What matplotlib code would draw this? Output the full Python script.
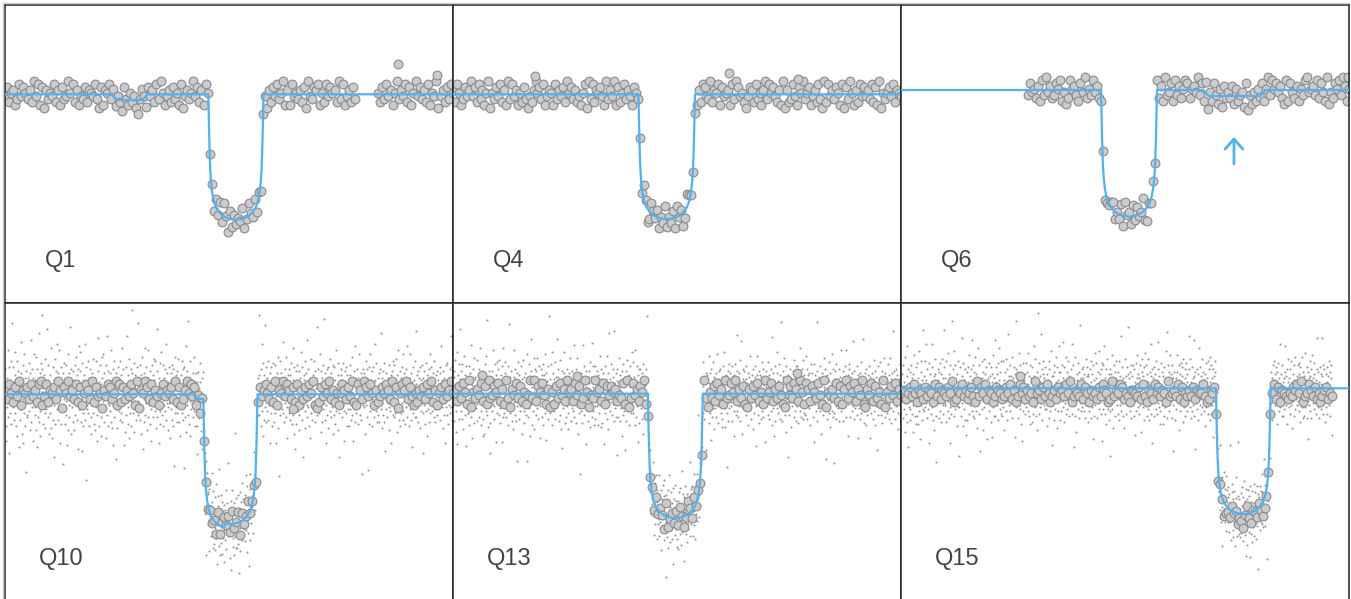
"""
plot.py - transit light curves of one planet in six Kepler quarters.

Long cadence points are grey circles, short cadence points tiny dots,
the fitted transit model is the blue line.
"""

import numpy as np
import matplotlib
matplotlib.use("Agg")
import matplotlib.pyplot as plt
from matplotlib.lines import Line2D

OUT = "out.png"
W, H = 1351, 599

BLUE = "#4db3f5"

# time (h) from the start of each window, flux (ppt) from the model baseline
T_SPAN = 44.8
Y_RANGE = 29.8

QUARTERS = ["Q1", "Q4", "Q6", "Q10", "Q13", "Q15"]
Y_TOP = [8.93, 8.93, 8.5, 9.13, 9.07, 8.53]
T_MID = [23.09, 21.37, 22.8, 22.54, 22.23, 34.23]
HALF_DUR = [2.76, 2.83, 2.8, 2.71, 2.75, 2.74]
DEPTH = [12.57, 12.5, 12.67, 13.0, 12.46, 12.6]

# half of the transit profile: phase (-1 = first contact, 0 = mid), fraction of depth
SHAPE_U = [-1.0, -0.985, -0.96, -0.93, -0.9, -0.86, -0.8, -0.72, -0.6, -0.45, -0.25, 0.0]
SHAPE_D = [0.0, 0.15, 0.4, 0.6, 0.7, 0.78, 0.85, 0.9, 0.94, 0.97, 0.99, 1.0]

# shallow second planet seen in some quarters
SEC_T = {
    "Q1": [10.67, 11.17, 13.67, 14.33],
    "Q6": [30.23, 30.73, 35.9, 36.4],
    "Q10": [19.0, 19.2, 21.9, 22.0],
}
SEC_F = {
    "Q1": [0.0, -0.57, -0.57, 0.0],
    "Q6": [0.0, -0.6, -0.6, 0.0],
    "Q10": [0.0, -0.47, -0.47, 0.0],
}

# long cadence: (start, end, residual digits), residual = (d - 4.5) * 0.3 ppt
LC = {
    "Q1": [
        (0.0, 35.0,
         "4725613847536294817063548261734958261437265483071658"
         "3726419537462058517462839514627351804635947261854617"
         "3829507263548149538261740627483591618453627094376815"
         "2847562938146273"),
        (37.3, 44.8, "5273846159364827159473628154904627385"),
    ],
    "Q4": [
        (0.0, 44.8,
         "6285137469472836159053748261938461527304269573814651"
         "8364729573624158093826574193649172583641753829602864"
         "7153925371846029745316287439265817456183974520476283"
         "5169385742619062384175935714628309284637518073951628"
         "474638271905357482654"),
    ],
    "Q6": [
        (12.7, 44.8,
         "3745261839462375814028563174925384621703467253819562"
         "8374591053748261934718362587256493718063952718464827"
         "3561905263748159385746208174261538945638274190427583"
         "9615"),
    ],
    "Q10": [
        (0.0, 44.8,
         "6385274916573846289148265739607594638271586392745064"
         "8735918273648519065973826415846573927136958472605784"
         "6351926847293580735946812746853729165948637281637485"
         "9102748593625158637492186397485162475863927058693741"
         "52647385926157384695"),
    ],
    "Q13": [
        (0.0, 44.8,
         "4627385190536482719347582619306483725149392758416051"
         "7384629562847139504395628174756243819038462759165728"
         "3640914637285149628475193053728461934859263710637482"
         "5193582637410947386295186275384190546382716937582649"
         "10648273519053748264"),
    ],
    "Q15": [
        (0.1, 43.1,
         "2413526304315243062514325370143624135207253614302543"
         "1253614026351423073415263024153426370243261530423152"
         "6430172436513204432516204316352430723426150324251433"
         "6201435216402326451320473154263012423615043213254637"
         "0236425130245132"),
    ],
}

# single long cadence points far from the rest: (time, flux)
LC_OUTLIERS = {
    "Q1": [(39.3, 3.03), (43.2, 1.93)],
    "Q4": [(8.2, 1.83), (27.6, 2.16), (34.5, 1.53)],
    "Q6": [(44.7, 1.3)],
    "Q10": [(28.8, -1.5)],
    "Q13": [(34.4, 2.1), (2.9, 1.87), (12.4, 1.77)],
    "Q15": [(11.9, 1.23)],
}

# short cadence: time span and residual codes, residual = (v - 50) * 0.21 ppt
SC_SPAN = {"Q10": (0.0, 44.8), "Q13": (0.0, 44.8), "Q15": (0.1, 43.1)}

SC_Q10 = """
47 62 35 51 28 58 44 71 39 55 63 49 22 57 41 66 53 36 84 45
51 44 63 38 56 47 70 41 59 35 53 48 66 30 57 45 61 25 52 43
52 38 60 43 75 31 56 48 64 27 50 41 69 35 58 46 13 61 54 40
39 58 46 65 42 54 33 60 49 76 37 56 44 62 51 28 58 47 69 40
44 57 33 68 49 25 62 39 53 46 79 37 55 42 60 30 48 65 51 88
62 45 53 36 59 48 41 67 34 55 50 43 81 46 57 39 64 52 31 56
59 41 50 34 72 46 54 29 63 38 57 45 20 67 49 36 61 52 43 74
47 60 38 54 45 71 43 58 27 63 49 36 56 44 60 53 17 48 65 42
36 55 47 64 40 58 26 51 69 33 45 60 39 82 48 56 31 62 44 53
55 37 61 49 33 57 46 64 40 52 68 45 38 59 47 24 62 50 43 73
61 43 70 37 52 48 65 23 57 41 35 59 46 74 50 38 63 9 54 45
43 66 50 41 58 35 54 47 62 39 56 31 60 45 52 67 41 57 48 36
49 33 58 44 66 28 53 40 61 47 77 35 56 42 50 64 30 55 39 68
58 42 47 69 37 53 60 44 51 29 64 48 55 40 78 46 35 61 53 45
42 60 51 37 47 71 34 57 45 62 26 53 39 66 48 58 43 19 60 52
34 55 63 46 50 42 57 38 66 48 41 59 45 72 37 54 49 62 26 51
55 46 32 63 40 54 49 78 36 59 44 51 67 29 57 41 62 47 35 90
60 48 41 56 44 65 32 53 47 59 38 50 63 43 56 84 47 40 58 46
38 64 50 45 59 31 68 43 56 24 52 60 37 48 72 40 55 46 63 33
46 52 58 39 71 45 54 36 61 50 43 57 28 64 48 53 39 59 45 67
57 42 66 34 51 47 61 39 81 53 44 27 58 49 36 65 42 54 70 45
53 40 64 48 35 58 45 62 42 55 74 38 51 46 60 33 56 44 63 49
46 53 29 60 43 57 38 64 50 35 62 47 16 56 41 68 52 44 59 37
41 61 45 52 67 37 50 57 44 30 59 47 54 41 66 50 38 62 46 15
63 39 55 48 73 32 50 45 61 40 54 85 36 58 47 30 66 51 43 56
57 46 39 60 48 53 42 68 35 56 45 61 49 37 58 24 63 51 42 55
41 58 44 67 35 52 60 26 49 63 38 55 46 71 42 57 33 61 48 21
44 63 55 41 56 30 60 46 52 65 40 54 47 71 43 58 36 50 64 39
54 47 62 37 50 43 69 56 31 59 45 64 40 53 77 36 48 58 42 65
62 37 50 58 45 61 49 33 57 42 53 66 38 55 46 60 44 79 48 52
50 34 57 45 61 28 53 47 66 39 56 43 60 35 51 93 44 62 38 55
38 54 47 63 40 57 26 51 64 47 36 59 45 52 41 68 55 43 60 46
45 61 39 52 70 44 58 33 49 64 41 57 25 54 47 68 36 60 43 51
55 49 60 35 52 44 70 46 39 62 50 43 57 32 61 47 54 40 58 88
59 40 53 46 35 62 48 74 42 56 30 65 50 38 59 44 83 52 37 63
47 58 42 66 38 56 51 45 60 27 54 48 63 41 57 35 50 65 44 53
37 55 64 41 57 49 27 60 45 52 68 34 58 43 11 56 40 66 48 53
60 43 53 48 75 41 58 37 55 46 62 39 51 68 44 56 29 59 47 41
62 46 51 38 59 43 65 36 54 48 72 40 57 31 63 47 55 24 61 44
36 57 64 42 49 55 40 61 33 58 45 52 47 70 38 54 63 45 20 59
48 57 34 66 42 53 60 45 39 76 51 44 62 35 56 49 29 58 41 67
52 45 38 59 56 47 66 43 50 61 37 57 44 53 46 82 40 55 62 48
53 41 69 47 55 32 61 44 58 37 50 64 43 86 46 54 38 60 52 27
45 62 51 40 63 34 55 49 58 42 67 46 39 60 52 44 57 31 64 50
40 63 50 57 36 48 71 42 55 46 33 59 65 41 52 20 57 45 62 49
59 39 47 57 45 65 42 53 28 61 48 56 41 63 35 50 59 46 54 43
56 35 59 43 64 51 38 53 47 68 40 56 28 61 44 50 73 37 58 46
41 56 62 46 36 52 58 44 69 47 40 55 60 38 57 49 12 62 45 53
44 60 47 54 31 66 45 57 39 62 53 14 55 48 63 36 51 42 69 57
54 48 35 61 50 43 63 56 39 57 46 74 42 51 65 37 53 47 58 40
60 48 37 62 55 43 79 50 34 58 46 61 40 54 37 65 49 23 56 43
48 60 53 39 58 46 51 33 64 44 55 42 59 49 27 61 45 56 40 66
51 39 64 46 57 41 53 67 32 59 48 55 44 71 38 52 61 45 35 58
57 41 46 63 42 69 38 55 47 60 52 36 56 44 62 48 73 39 53 45
35 58 52 43 69 47 60 38 56 44 25 63 50 41 57 46 66 39 54 80
39 55 59 44 52 37 61 48 45 58 34 63 50 42 57 46 55 64 41 22
58 45 61 36 50 54 42 65 47 30 59 43 56 49 62 37 53 69 41 48
63 47 42 56 48 60 45 39 66 51 43 54 37 59 46 52 40 61 49 57
43 52 47 60 38 63 49 55 73 44 57 34 61 46 52 40 58 27 50 64
44 52 57 40 65 49 36 58 53 45 62 41 56 78 44 50 63 38 55 47
"""

SC_Q13 = """
53 44 61 37 58 49 66 32 55 42 70 47 26 59 51 38 64 45 57 81
49 61 42 55 38 64 46 57 33 52 68 44 59 40 51 25 63 47 56 41
41 56 48 63 35 52 60 44 73 39 54 47 29 62 50 43 67 36 58 46
57 43 50 66 45 37 59 48 54 62 39 56 46 72 42 53 35 60 49 30
60 38 55 45 31 64 49 57 42 68 53 40 85 47 56 34 61 50 44 22
36 58 47 53 61 42 71 45 50 38 57 44 64 48 27 59 52 41 65 46
47 62 40 54 66 43 51 36 59 48 27 63 45 57 39 72 52 41 65 49
60 45 55 39 48 57 43 63 35 55 47 83 41 58 50 44 61 37 54 51
55 33 58 46 71 40 62 50 37 56 44 60 18 53 47 65 38 59 42 54
44 52 63 46 57 31 53 49 66 42 58 36 51 60 45 56 40 69 47 18
39 57 50 43 64 30 56 48 61 45 76 35 53 42 58 49 67 33 51 62
55 40 48 61 43 56 67 38 52 46 63 50 29 57 44 62 48 53 39 59
64 46 35 59 52 41 69 44 54 28 60 47 56 38 63 50 43 87 48 57
41 64 53 44 70 47 35 60 49 57 42 54 47 38 65 51 43 58 76 45
45 58 62 37 49 55 40 66 33 57 46 52 61 24 55 43 60 48 70 36
58 46 39 57 51 62 44 53 41 33 60 48 56 45 67 37 55 50 61 43
50 42 57 48 73 39 54 45 62 36 51 59 44 67 31 56 41 53 47 12
47 55 60 42 36 54 58 46 73 49 40 63 52 44 57 26 53 61 45 50
58 37 47 61 43 55 34 65 50 46 58 39 74 48 53 42 63 35 57 44
63 38 50 56 47 44 61 35 55 59 46 51 41 68 48 57 34 62 47 55
36 60 51 44 56 26 63 49 41 57 45 68 38 52 60 47 33 55 79 50
42 57 46 64 53 40 49 58 45 62 37 55 80 43 52 47 60 39 56 21
62 48 39 55 67 45 52 37 59 43 54 30 61 46 50 40 64 57 42 23
54 49 61 37 58 45 66 42 50 56 44 35 59 48 63 53 41 57 46 70
44 53 65 41 50 58 35 47 71 39 56 48 63 44 27 59 51 36 62 54
45 62 43 52 48 60 38 55 31 64 51 47 57 40 54 46 62 44 87 49
57 40 49 63 32 54 46 60 43 52 83 38 57 45 66 41 49 61 34 48
60 41 56 47 65 35 53 59 43 50 46 67 38 56 45 52 32 61 48 57
49 64 43 52 59 38 67 45 55 21 60 47 40 58 51 35 63 44 56 70
38 55 50 62 44 57 48 40 64 53 28 59 47 55 42 66 50 45 58 36
40 55 58 35 47 62 50 42 64 48 37 56 72 43 53 46 61 29 52 59
53 47 64 41 56 50 37 60 46 55 43 58 52 74 39 49 61 44 53 62
61 45 37 57 42 66 48 53 34 59 45 51 63 40 57 89 44 54 38 47
46 59 36 54 49 63 45 52 58 41 65 47 38 57 50 43 56 23 60 48
46 59 52 44 68 36 55 41 60 49 28 62 47 56 39 65 50 43 58 33
57 43 51 60 39 55 47 69 44 53 36 61 49 57 45 62 41 54 47 34
55 38 63 48 51 45 70 34 57 43 59 50 41 15 54 61 46 37 64 52
43 60 55 46 52 44 58 37 63 48 56 42 59 30 55 47 64 51 40 78
42 61 47 56 39 60 44 52 66 37 55 48 75 45 31 57 43 62 49 56
61 48 44 57 63 40 52 46 55 35 60 53 45 58 49 68 43 56 38 50
59 46 54 33 62 50 41 58 47 63 25 53 44 59 68 40 52 45 36 61
48 54 59 38 47 58 42 65 51 45 62 39 54 47 27 57 44 61 53 45
48 57 40 65 45 53 59 38 51 46 62 42 56 35 48 77 43 60 54 30
55 37 49 63 45 53 60 43 70 46 41 56 50 64 38 52 59 45 48 84
37 52 61 46 58 43 49 67 40 55 48 32 63 51 44 57 20 59 46 53
40 58 62 47 55 34 57 49 44 61 52 46 39 66 54 42 57 49 63 37
63 44 50 57 36 61 47 54 42 72 49 58 39 62 45 52 66 38 55 41
59 45 53 40 68 50 46 62 38 56 44 59 51 43 60 47 35 55 48 64
51 60 45 39 56 48 64 27 53 45 59 42 50 61 37 84 47 56 43 58
47 63 42 55 49 57 31 51 60 45 58 40 67 47 53 62 44 19 56 51
45 38 59 52 47 65 41 56 49 34 60 53 46 69 42 55 39 62 48 17
52 41 57 61 44 38 64 47 55 49 43 57 46 62 37 58 50 45 71 42
56 49 43 61 54 37 58 46 63 50 44 71 39 57 48 53 30 59 45 62
64 50 46 39 58 53 45 60 42 56 75 44 50 38 61 48 55 43 57 46
40 63 55 47 29 59 52 43 60 38 56 47 65 41 53 49 76 44 58 36
42 56 60 48 35 62 49 54 47 40 59 52 45 63 44 29 58 50 41 55
54 45 60 38 57 50 66 42 48 61 35 55 44 58 23 52 46 63 40 57
57 44 51 65 46 53 40 58 36 61 48 43 56 52 67 45 39 60 47 53
47 56 41 64 49 53 38 59 45 67 51 43 57 36 60 48 54 80 42 50
46 61 38 53 57 44 62 48 51 59 41 55 33 57 46 64 52 40 58 81
"""

SC_Q15 = """
44 57 36 49 61 40 53 29 47 65 38 51 43 70 34 56 46 22 59 41
47 40 58 35 52 44 61 38 55 46 29 57 42 66 49 37 53 45 60 33
50 37 62 45 33 55 48 68 39 52 44 26 58 42 63 35 47 54 78 40
39 56 45 63 41 50 71 43 54 36 59 47 40 52 62 45 24 57 48 51
38 53 46 60 41 71 35 49 56 43 30 57 45 64 50 37 15 52 44 59
54 43 36 58 47 62 39 51 45 57 34 64 50 42 55 38 60 46 78 43
55 42 48 34 63 46 52 39 67 44 57 36 50 41 24 61 47 53 38 82
42 59 51 44 68 37 55 48 40 61 46 53 32 57 44 49 63 41 52 18
41 60 45 53 37 49 74 43 56 32 48 62 40 54 46 35 59 44 51 28
58 35 47 60 43 53 46 66 38 56 42 50 59 45 73 39 54 47 37 61
58 36 52 46 65 39 44 57 31 50 42 69 47 55 38 61 43 49 20 53
45 52 63 40 55 30 58 44 49 64 41 57 46 36 53 60 43 51 26 55
46 51 39 62 43 56 48 34 60 45 53 27 57 41 66 47 37 55 50 73
37 60 44 53 48 57 42 35 62 47 54 69 40 58 45 51 38 63 49 44
37 63 47 41 54 30 58 45 50 64 39 52 44 59 35 48 76 42 56 46
61 46 39 56 51 43 65 49 36 55 44 60 48 53 27 57 46 41 59 82
52 44 58 36 49 67 42 55 40 47 61 33 53 45 25 57 48 39 62 43
43 54 57 38 45 62 50 41 58 46 39 52 67 44 56 37 61 48 33 53
43 55 34 60 46 51 38 70 44 56 41 49 64 37 52 45 58 30 47 86
50 38 62 47 56 41 53 76 43 59 48 35 57 45 63 42 50 55 40 46
60 40 50 45 57 32 54 47 42 63 36 59 48 53 39 68 44 51 23 56
56 44 49 61 35 58 46 52 40 65 53 44 31 60 47 54 39 58 45 70
35 58 46 53 39 61 44 50 72 41 55 47 34 60 43 52 38 65 49 45
40 58 53 44 63 47 37 56 50 42 59 45 54 71 38 52 61 43 49 22
49 42 65 37 52 48 29 57 45 54 40 62 51 36 58 46 80 43 55 39
53 47 41 59 46 55 60 39 57 44 51 36 64 48 42 56 47 60 34 57
56 47 39 59 44 50 63 36 53 41 48 57 26 61 45 37 54 49 42 67
44 62 55 36 50 45 58 43 68 49 40 57 46 53 59 38 45 25 62 50
40 61 53 43 70 38 49 55 46 33 59 44 52 64 40 47 57 35 51 18
59 39 46 57 43 66 40 54 47 31 61 52 44 58 37 55 63 46 51 42
54 38 47 58 35 63 45 51 42 56 39 75 48 43 60 52 37 55 46 31
47 53 64 45 38 56 48 60 42 57 46 79 43 50 55 39 58 44 36 61
45 56 42 50 61 46 37 59 48 28 53 44 62 39 55 47 66 41 50 57
38 55 50 42 61 47 53 29 58 45 64 41 56 48 52 35 60 47 67 45
61 44 57 37 47 53 40 64 35 52 45 58 49 71 38 56 43 24 59 48
55 46 37 60 52 44 57 50 40 63 38 54 46 59 43 72 41 56 49 33
39 50 46 62 42 58 51 33 56 44 60 37 53 46 41 68 48 55 36 77
42 61 48 55 39 58 45 66 52 44 50 57 36 61 47 42 55 20 58 46
53 45 35 55 49 40 66 47 58 43 51 30 61 45 57 39 50 62 44 52
60 43 56 34 64 46 51 41 59 37 55 48 62 45 53 39 57 44 50 75
47 59 50 41 64 36 53 45 39 60 48 55 42 73 37 56 46 21 58 43
46 52 40 59 45 57 35 53 48 69 42 60 45 38 56 50 64 41 54 47
58 39 54 47 44 57 32 62 50 41 55 46 63 38 51 44 59 48 35 65
53 38 61 46 55 42 59 47 27 56 44 51 63 40 58 46 35 62 48 55
36 52 61 43 50 46 70 40 55 48 37 59 45 27 56 42 53 64 47 51
41 57 47 64 38 52 45 58 43 55 60 39 49 57 44 81 47 53 36 59
50 63 41 56 38 53 45 60 34 49 57 43 67 46 52 39 58 44 84 40
57 45 52 39 60 48 41 63 54 46 37 58 43 66 50 45 56 40 62 30
44 48 57 35 61 47 52 41 58 45 29 63 50 40 55 47 36 60 43 54
45 63 38 54 47 59 44 50 36 61 53 42 57 48 21 55 46 60 39 52
57 42 46 64 40 55 38 51 47 69 43 56 36 59 45 52 41 16 57 48
39 50 59 45 56 41 67 46 52 43 58 35 55 47 61 44 50 38 63 57
42 54 60 45 51 33 58 48 43 62 52 39 55 46 71 41 57 44 49 37
61 44 53 37 49 55 40 58 46 70 42 56 48 33 59 45 53 64 41 47
55 47 38 59 46 63 42 53 31 57 49 44 61 37 54 48 65 40 52 45
48 56 42 61 44 52 62 39 57 45 34 60 47 55 41 65 50 43 58 36
48 37 56 43 67 41 54 49 60 36 47 58 44 26 55 51 42 63 39 56
36 59 51 47 66 43 55 48 40 57 62 45 52 38 54 46 59 44 74 49
41 58 49 53 36 60 45 57 40 52 74 43 56 47 38 61 50 45 59 34
52 41 57 44 53 60 38 56 49 45 63 42 50 58 37 55 44 61 47 28
"""

SC = {"Q10": SC_Q10, "Q13": SC_Q13, "Q15": SC_Q15}

# second planet marker in Q6: (time, tail flux, head flux)
ARROW_Q6 = (33.3, -7.4, -4.7)


def modelo(t, k):
    """Transit model (ppt) of panel k at times t."""
    u = np.concatenate([SHAPE_U, -np.array(SHAPE_U[-2::-1])])
    d = np.concatenate([SHAPE_D, SHAPE_D[-2::-1]])
    f = -DEPTH[k] * np.interp((np.asarray(t) - T_MID[k]) / HALF_DUR[k], u, d, left=0, right=0)
    q = QUARTERS[k]
    if q in SEC_T:
        f = f + np.interp(t, SEC_T[q], SEC_F[q], left=0, right=0)
    return f


def vertices_modelo(k):
    """Break points of the model line, so it can be drawn exactly."""
    u = np.concatenate([SHAPE_U, -np.array(SHAPE_U[-2::-1])])
    t = list(T_MID[k] + HALF_DUR[k] * u) + [0.0, T_SPAN]
    t += SEC_T.get(QUARTERS[k], [])
    t = np.array(sorted(set(t)))
    return t, modelo(t, k)


def puntos_lc(k):
    q = QUARTERS[k]
    ts, fs = [], []
    for t0, t1, s in LC[q]:
        r = (np.array([int(c) for c in s]) - 4.5) * 0.3
        t = np.linspace(t0, t1, len(r))
        ts.append(t)
        fs.append(modelo(t, k) + r)
    for t, f in LC_OUTLIERS.get(q, []):
        ts.append(np.array([t]))
        fs.append(np.array([f]))
    return np.concatenate(ts), np.concatenate(fs)


def puntos_sc(k):
    q = QUARTERS[k]
    v = np.array(SC[q].split(), dtype=float)
    t = np.linspace(SC_SPAN[q][0], SC_SPAN[q][1], len(v))
    return t, modelo(t, k) + (v - 50) * 0.21


def generar_grafico():
    fig = plt.figure(figsize=(W / 100, H / 100), dpi=100)

    for k, q in enumerate(QUARTERS):
        row, col = divmod(k, 3)
        top_px = 5 + 298 * row
        ax = fig.add_axes([(5 + 448 * col) / W, 1 - (top_px + 298) / H, 448 / W, 298 / H])

        if q in SC:
            ts, fs = puntos_sc(k)
            ax.scatter(ts, fs, s=2.2, color="#959595", linewidths=0, zorder=1)

        tl, fl = puntos_lc(k)
        ax.scatter(tl, fl, s=40, facecolor="#cbcbcb", edgecolor="#8a8a8a",
                   linewidths=0.8, zorder=2)

        tm, fm = vertices_modelo(k)
        ax.plot(tm, fm, color=BLUE, lw=1.6, zorder=3, solid_capstyle="butt")

        if q == "Q6":
            x, y0, y1 = ARROW_Q6
            ax.annotate("", xy=(x, y1), xytext=(x, y0),
                        arrowprops=dict(arrowstyle="->,head_length=0.36,head_width=0.32",
                                        color=BLUE, lw=2.0, mutation_scale=20,
                                        shrinkA=0, shrinkB=0))

        ax.text(0.125, 0.121, q, transform=ax.transAxes, ha="center", va="baseline",
                fontsize=17, color="#444444", family=["Liberation Sans", "DejaVu Sans"])

        ax.set_xlim(0, T_SPAN)
        ax.set_ylim(Y_TOP[k] - Y_RANGE, Y_TOP[k])
        ax.set_xticks([])
        ax.set_yticks([])
        for sp in ax.spines.values():
            sp.set_color("#222222")
            sp.set_linewidth(1.1)

    # thin grey page edge on the left and top
    fig.add_artist(Line2D([2.5 / W, 2.5 / W], [0, 1 - 2.5 / H], transform=fig.transFigure,
                          color="#cccccc", lw=1.0))
    fig.add_artist(Line2D([2.5 / W, 1349 / W], [1 - 2.5 / H, 1 - 2.5 / H],
                          transform=fig.transFigure, color="#cccccc", lw=1.0))

    fig.savefig(OUT, dpi=100)
    plt.close(fig)


if __name__ == "__main__":
    generar_grafico()
